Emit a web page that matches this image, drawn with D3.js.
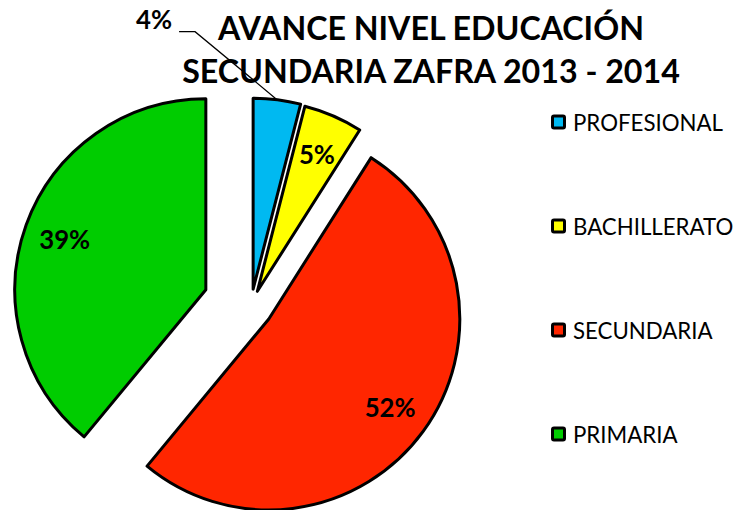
<!DOCTYPE html>
<html>
<head>
<meta charset="utf-8">
<script src="https://cdn.jsdelivr.net/npm/d3@7"></script>
<style>
  html, body { margin:0; padding:0; background:#fff; }
  svg { display:block; font-family: Lato, "Open Sans", sans-serif; }
</style>
</head>
<body>
<svg id="chart" width="736" height="510"></svg>
<script>
// --- Data ---
const categories = ["PROFESIONAL", "BACHILLERATO", "SECUNDARIA", "PRIMARIA"];
const values     = [4, 5, 52, 39];
const labels     = ["4%", "5%", "52%", "39%"];
const colors     = ["#00B9F1", "#FFFF00", "#FF2600", "#00CC00"];
const titleLines = ["AVANCE NIVEL EDUCACIÓN", "SECUNDARIA ZAFRA 2013 - 2014"];

// --- Layout ---
const W = 736, H = 510;
const cx = 251, cy = 306, R = 191;
const explode = [17, 16, 22, 48];     // per-slice pull-out, px
const labelR  = 150;

const svg = d3.select("#chart");

// fit a text's font-size so it spans the given width
function fitWidth(sel, base, target){
  sel.attr("font-size", base);
  const len = sel.node().getComputedTextLength();
  const size = base * target / len;
  sel.attr("font-size", size);
  return size;
}

// --- Pie ---
const pie = d3.pie().sort(null).value(d => d)(values);
const arc = d3.arc().innerRadius(0).outerRadius(R);
const mid = d => (d.startAngle + d.endAngle) / 2;
const offs = pie.map((d, i) => [Math.sin(mid(d)) * explode[i], -Math.cos(mid(d)) * explode[i]]);

const gPie = svg.append("g").attr("transform", `translate(${cx},${cy})`);
const slices = gPie.selectAll("g.slice").data(pie).enter().append("g")
  .attr("class", "slice")
  .attr("transform", (d, i) => `translate(${offs[i][0]},${offs[i][1]})`);

slices.append("path")
  .attr("d", arc)
  .attr("fill", (d, i) => colors[i])
  .attr("stroke", "#000")
  .attr("stroke-width", 3)
  .attr("stroke-linejoin", "round");

// label size from the widest inside label
const probe = svg.append("text").attr("font-weight", "bold").text(labels[2]);
const lblSize = fitWidth(probe, 24, 51);
probe.remove();

// inside labels (all but the first small slice)
slices.filter((d, i) => i > 0).append("text")
  .attr("x", d => Math.sin(mid(d)) * labelR)
  .attr("y", d => -Math.cos(mid(d)) * labelR)
  .attr("text-anchor", "middle")
  .attr("dominant-baseline", "central")
  .attr("font-weight", "bold")
  .attr("font-size", lblSize)
  .attr("fill", "#000")
  .text(d => labels[d.index]);

// outside label with leader line for PROFESIONAL
{
  const d = pie[0];
  const a = mid(d);
  const px = cx + offs[0][0] + Math.sin(a) * R;
  const py = cy + offs[0][1] - Math.cos(a) * R;
  const ex = px - 82, ey = py - 68;
  svg.append("polyline")
    .attr("points", `${px},${py} ${ex},${ey} ${ex - 16},${ey}`)
    .attr("fill", "none")
    .attr("stroke", "#000")
    .attr("stroke-width", 1.3);
  svg.append("text")
    .attr("x", ex - 23)
    .attr("y", ey - 3)
    .attr("text-anchor", "end")
    .style("font-weight", "bold")
    .style("font-size", lblSize + "px")
    .attr("fill", "#000")
    .text(labels[0]);
}

// --- Title ---
const tCenter = 431;
const t2 = svg.append("text")
  .attr("x", tCenter).attr("y", 83)
  .attr("text-anchor", "middle")
  .attr("font-weight", "bold")
  .text(titleLines[1]);
const tSize = fitWidth(t2, 30, 498);
svg.append("text")
  .attr("x", tCenter).attr("y", 40)
  .attr("text-anchor", "middle")
  .attr("font-weight", "bold")
  .attr("font-size", tSize)
  .text(titleLines[0]);

// --- Legend ---
const legY = d3.scalePoint().domain(categories).range([122, 434]);
const leg = svg.append("g").selectAll("g").data(categories).enter().append("g")
  .attr("transform", d => `translate(551,${legY(d)})`);
leg.append("rect")
  .attr("x", 1.5).attr("y", -6)
  .attr("width", 12).attr("height", 12)
  .attr("rx", 1.5)
  .attr("fill", (d, i) => colors[i])
  .attr("stroke", "#000")
  .attr("stroke-width", 3);
const legText = leg.append("text")
  .attr("x", 22)
  .attr("y", 0)
  .attr("dominant-baseline", "central")
  .attr("fill", "#000")
  .text(d => d);
const legSize = fitWidth(legText.filter((d, i) => i === 0), 20, 150);
legText.attr("font-size", legSize);
</script>
</body>
</html>
